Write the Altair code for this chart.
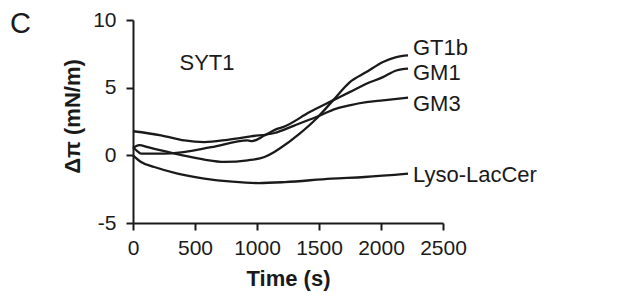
import altair as alt
import pandas as pd

# ---- data ----
gt1b_t = [0, 50, 120, 226, 400, 575, 737, 925, 1060, 1140, 1183, 1344, 1478, 1613, 1747, 1882, 2016, 2124, 2218]
gt1b_v = [0.55, 0.75, 0.6, 0.37, 0.0, -0.32, -0.49, -0.37, -0.12, 0.25, 0.5, 1.6, 2.7, 4.06, 5.4, 6.15, 6.9, 7.26, 7.38]

gm1_t = [0, 30, 65, 200, 305, 630, 925, 960, 1060, 1167, 1210, 1425, 1613, 1747, 1882, 2016, 2124, 2218]
gm1_v = [0.6, 0.35, 0.12, 0.12, 0.15, 0.6, 1.1, 1.05, 1.47, 1.97, 2.09, 3.2, 4.06, 4.67, 5.29, 5.78, 6.27, 6.4]

gm3_t = [0, 226, 414, 575, 763, 950, 1140, 1300, 1478, 1640, 1747, 1882, 2016, 2218]
gm3_v = [1.78, 1.48, 1.1, 0.98, 1.15, 1.4, 1.65, 2.2, 2.83, 3.45, 3.7, 3.93, 4.06, 4.26]

lyso_t = [0, 65, 172, 360, 575, 800, 1011, 1225, 1600, 1867, 2218]
lyso_v = [0.0, -0.49, -0.86, -1.35, -1.72, -1.95, -2.05, -1.98, -1.72, -1.6, -1.35]

series_names = ["GT1b", "GM1", "GM3", "Lyso-LacCer"]
label_x = [2258, 2258, 2258, 2258]
label_y = [7.9, 6.1, 3.76, -1.48]

x_ticks = [0, 500, 1000, 1500, 2000, 2500]
y_ticks = [-5, 0, 5, 10]

rows = []
for name, ts, vs in zip(series_names, [gt1b_t, gm1_t, gm3_t, lyso_t], [gt1b_v, gm1_v, gm3_v, lyso_v]):
    for t, v in zip(ts, vs):
        rows.append({"series": name, "t": t, "v": v})
df = pd.DataFrame(rows)
lab_df = pd.DataFrame({"label": series_names, "t": label_x, "v": label_y})
syt_df = pd.DataFrame({"label": ["SYT1"], "t": [597], "v": [6.82]})
panel_df = pd.DataFrame({"label": ["C"]})

FONT = "Liberation Sans"
INK = "#1a1a1a"

x_scale = alt.Scale(domain=[0, 2500], nice=False)
y_scale = alt.Scale(domain=[-5, 10], nice=False)

x_enc = alt.X("t:Q", scale=x_scale,
              axis=alt.Axis(values=x_ticks, format="d", title="Time (s)", labelPadding=7,
                            titlePadding=10, labelFlush=False))
y_enc = alt.Y("v:Q", scale=y_scale,
              axis=alt.Axis(values=y_ticks, title="Δπ (mN/m)", labelPadding=10,
                            labelExpr="replace(datum.label, '−', '-')",
                            titleX=-61, titleY=96, titleAlign="center", titleBaseline="middle",
                            titleAngle=270, labelFlush=False))

lines = alt.Chart(df).mark_line(color=INK, strokeWidth=2.3, interpolate="monotone").encode(
    x=x_enc, y=y_enc, detail="series:N"
)

labels = alt.Chart(lab_df).mark_text(align="left", baseline="middle", fontSize=22, font=FONT, color=INK).encode(
    x=alt.X("t:Q", scale=x_scale), y=alt.Y("v:Q", scale=y_scale), text="label:N"
)

syt = alt.Chart(syt_df).mark_text(align="center", baseline="middle", fontSize=22, font=FONT, color=INK).encode(
    x=alt.X("t:Q", scale=x_scale), y=alt.Y("v:Q", scale=y_scale), text="label:N"
)

panel = alt.Chart(panel_df).mark_text(align="left", baseline="middle", fontSize=29, font=FONT, color=INK).encode(
    x=alt.value(-123), y=alt.value(4), text="label:N"
)

chart = alt.layer(lines, labels, syt, panel).properties(
    width=310, height=203,
    padding={"left": 125, "top": 12, "right": 170, "bottom": 77},
    autosize=alt.AutoSizeParams(type="none"),
).configure_view(stroke=None).configure_axis(
    grid=False, domainColor=INK, domainWidth=2, tickColor=INK, tickWidth=2, tickSize=7,
    labelFontSize=21, labelColor=INK, labelFont=FONT,
    titleFontSize=22, titleFontWeight="bold", titleFont=FONT, titleColor=INK,
)

chart.save("out.html", embed_options={"renderer": "svg", "actions": False})
